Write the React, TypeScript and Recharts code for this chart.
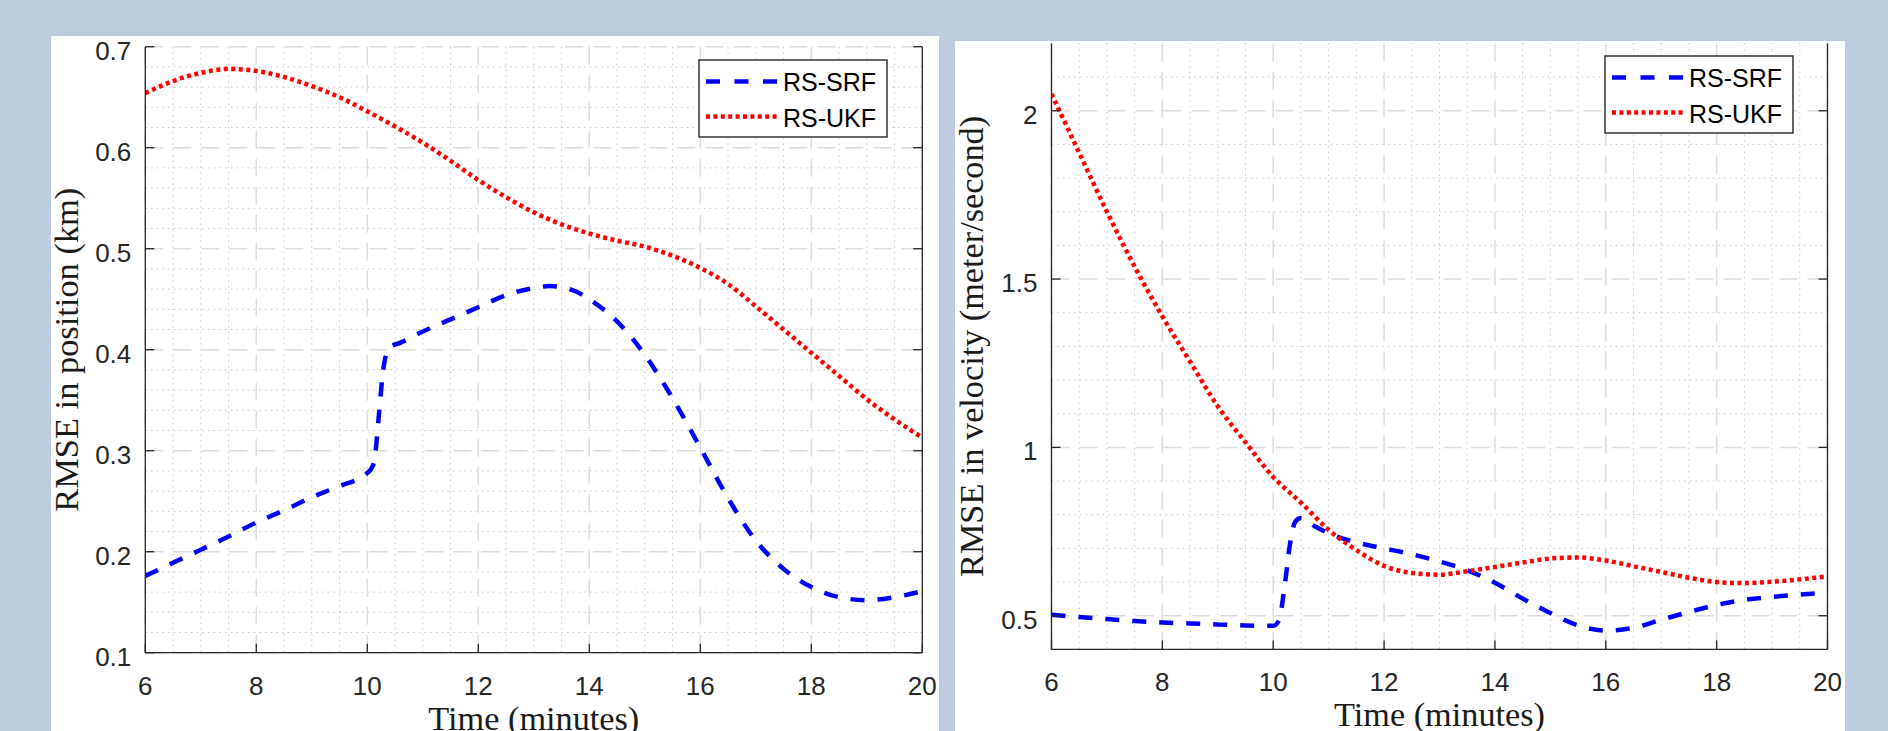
import React from 'react';
import { LineChart, Line, XAxis, YAxis, CartesianGrid, Legend } from 'recharts';

// ---------- data ----------
const seriesNames = ['RS-SRF', 'RS-UKF'];
const timeTicks = [6, 8, 10, 12, 14, 16, 18, 20];
const posTicks = [0.1, 0.2, 0.3, 0.4, 0.5, 0.6, 0.7];
const velTicks = [0.5, 1, 1.5, 2];

const posSrfTime = [6, 6.5, 7, 7.5, 8, 8.5, 9, 9.5, 10, 10.1, 10.15, 10.2, 10.3, 10.4, 10.6, 11, 11.5, 12, 12.5, 13, 13.3, 13.7, 14, 14.5, 15, 15.5, 16, 16.5, 17, 17.5, 18, 18.5, 19, 19.5, 20];
const posSrfValues = [0.176, 0.189, 0.202, 0.215, 0.229, 0.241, 0.254, 0.265, 0.278, 0.285, 0.3, 0.33, 0.385, 0.402, 0.407, 0.418, 0.43, 0.442, 0.454, 0.461, 0.463, 0.459, 0.45, 0.428, 0.395, 0.352, 0.303, 0.253, 0.211, 0.183, 0.165, 0.155, 0.152, 0.155, 0.161];

const posUkfTime = [6, 6.5, 7, 7.5, 8, 8.5, 9, 9.5, 10, 10.5, 11, 11.5, 12, 12.5, 13, 13.5, 14, 14.5, 15, 15.5, 16, 16.5, 17, 17.5, 18, 18.5, 19, 19.5, 20];
const posUkfValues = [0.654, 0.666, 0.674, 0.678, 0.676, 0.67, 0.661, 0.65, 0.636, 0.621, 0.605, 0.587, 0.568, 0.551, 0.536, 0.524, 0.515, 0.508, 0.502, 0.493, 0.481, 0.465, 0.443, 0.42, 0.397, 0.374, 0.351, 0.331, 0.313];

const velSrfTime = [6, 6.5, 7, 7.5, 8, 8.5, 9, 9.5, 10, 10.1, 10.2, 10.3, 10.4, 10.5, 10.75, 11, 11.5, 12, 12.5, 13, 13.5, 14, 14.5, 15, 15.5, 16, 16.5, 17, 17.5, 18, 18.5, 19, 19.5, 20];
const velSrfValues = [0.503, 0.496, 0.49, 0.484, 0.48, 0.477, 0.474, 0.471, 0.47, 0.485, 0.58, 0.71, 0.78, 0.79, 0.766, 0.745, 0.718, 0.7, 0.683, 0.661, 0.635, 0.598, 0.551, 0.508, 0.471, 0.456, 0.464, 0.488, 0.511, 0.532, 0.547, 0.556, 0.563, 0.569];

const velUkfTime = [6, 6.5, 7, 7.5, 8, 8.5, 9, 9.5, 10, 10.5, 11, 11.5, 12, 12.5, 13, 13.5, 14, 14.5, 15, 15.5, 16, 16.5, 17, 17.5, 18, 18.5, 19, 19.5, 20];
const velUkfValues = [2.05, 1.875, 1.7, 1.537, 1.389, 1.255, 1.122, 1.015, 0.912, 0.836, 0.755, 0.695, 0.648, 0.627, 0.622, 0.632, 0.645, 0.658, 0.67, 0.673, 0.664, 0.647, 0.63, 0.613, 0.6, 0.597, 0.601, 0.608, 0.617];

// ---------- helpers ----------
const range = (a: number, b: number, step: number) => {
  const out: number[] = [];
  for (let i = 0; a + i * step <= b + 1e-9; i++) out.push(+(a + i * step).toFixed(4));
  return out;
};
const notIn = (list: number[]) => (v: number) => !list.some((t) => Math.abs(t - v) < 1e-6);

const minorTime = range(6, 20, 0.5).filter(notIn(timeTicks));
const posMinor = range(0.1, 0.7, 0.02).filter(notIn(posTicks));
const velMinor = range(0.4, 2.2, 0.1).filter(notIn([...velTicks, 0.4, 2.2]));

const AXIS = '#262626';
const TICK_FONT = '"Liberation Sans", Arial, Helvetica, sans-serif';
const SERIF = '"Liberation Serif", "Times New Roman", serif';
const TICK_LEN = 9;
const TICK_SIZE = 26;
const LABEL_SIZE = 33;

const LeftTick = (props: any) => {
  const { x, y, payload } = props;
  const ax = x + 14;
  return (
    <g>
      <line x1={ax} y1={y} x2={ax + TICK_LEN} y2={y} stroke={AXIS} strokeWidth={1.3} />
      <text x={x} y={y + 13} textAnchor="end" fontSize={TICK_SIZE} fontFamily={TICK_FONT} fill={AXIS}>
        {String(payload.value)}
      </text>
    </g>
  );
};
const BottomTick = (props: any) => {
  const { x, y, payload } = props;
  return (
    <g>
      <line x1={x} y1={y} x2={x} y2={y - TICK_LEN} stroke={AXIS} strokeWidth={1.3} />
      <text x={x} y={y + 42} textAnchor="middle" fontSize={TICK_SIZE} fontFamily={TICK_FONT} fill={AXIS}>
        {String(payload.value)}
      </text>
    </g>
  );
};
const TopTick = (props: any) => {
  const { x, y } = props;
  return <line x1={x} y1={y} x2={x} y2={y + TICK_LEN} stroke={AXIS} strokeWidth={1.3} />;
};
const RightTick = (props: any) => {
  const { x, y } = props;
  return <line x1={x} y1={y} x2={x - TICK_LEN} y2={y} stroke={AXIS} strokeWidth={1.3} />;
};

const LegendBox = () => (
  <svg width={190} height={79} style={{ display: 'block' }}>
    <rect x={1} y={1} width={188} height={77} fill="#fff" stroke={AXIS} strokeWidth={1.4} />
    <line x1={8} y1={22.5} x2={79} y2={22.5} stroke="#0000FF" strokeWidth={4.5} strokeDasharray="14 14.5" />
    <line x1={8} y1={57.5} x2={79} y2={57.5} stroke="#FF0000" strokeWidth={4.5} strokeDasharray="4 3.4" />
    <text x={85} y={32} fontSize={25} fontFamily={TICK_FONT} fill="#000">{seriesNames[0]}</text>
    <text x={85} y={67.5} fontSize={25} fontFamily={TICK_FONT} fill="#000">{seriesNames[1]}</text>
  </svg>
);

type PanelProps = {
  left: number; top: number; width: number; height: number;
  plotLeft: number; plotTop: number; plotRight: number; plotBottom: number;
  yDomain: [number, number]; yTicks: number[]; yMinor: number[];
  srfTime: number[]; srfValues: number[]; ukfTime: number[]; ukfValues: number[];
  yLabel: string; yLabelX: number; yLabelLength: number;
  legendLeft: number; legendTop: number;
};

const Panel = (p: PanelProps) => {
  const srfData = p.srfTime.map((t, i) => ({ t, v: p.srfValues[i] }));
  const ukfData = p.ukfTime.map((t, i) => ({ t, v: p.ukfValues[i] }));
  const rightW = p.width - p.plotRight;
  const bottomH = p.height - p.plotBottom;
  return (
    <div style={{ position: 'absolute', left: p.left, top: p.top, width: p.width, height: p.height, background: '#fff' }}>
      <LineChart width={p.width} height={p.height} margin={{ top: p.plotTop, right: 0, left: 0, bottom: 0 }}>
        <CartesianGrid
          horizontalValues={p.yMinor}
          verticalValues={minorTime}
          stroke="#c6c6c6"
          strokeWidth={1}
          strokeDasharray="1.5 4.2"
        />
        <CartesianGrid
          horizontalValues={p.yTicks}
          verticalValues={timeTicks}
          stroke="#dcdcdc"
          strokeWidth={1.5}
          strokeDasharray="18 10"
        />
        <XAxis
          dataKey="t"
          type="number"
          domain={[6, 20]}
          ticks={timeTicks}
          interval={0}
          allowDataOverflow
          height={bottomH}
          tickSize={0}
          tickMargin={0}
          tickLine={false}
          axisLine={{ stroke: AXIS, strokeWidth: 1.3 }}
          tick={<BottomTick />}
          label={{
            content: (lp: any) => {
              const vb = lp.viewBox || {};
              return (
                <text
                  x={vb.x + vb.width / 2}
                  y={vb.y + 77}
                  textAnchor="middle"
                  fontSize={LABEL_SIZE}
                  fontFamily={SERIF}
                  fill="#1a1a1a"
                  textLength={211}
                  lengthAdjust="spacingAndGlyphs"
                >
                  Time (minutes)
                </text>
              );
            },
          }}
        />
        <XAxis
          xAxisId="top"
          orientation="top"
          dataKey="t"
          type="number"
          domain={[6, 20]}
          ticks={timeTicks}
          interval={0}
          allowDataOverflow
          height={0}
          tickSize={0}
          tickMargin={0}
          tickLine={false}
          axisLine={{ stroke: AXIS, strokeWidth: 1.3 }}
          tick={<TopTick />}
        />
        <YAxis
          type="number"
          domain={p.yDomain}
          ticks={p.yTicks}
          interval={0}
          allowDataOverflow
          width={p.plotLeft}
          tickSize={0}
          tickMargin={14}
          tickLine={false}
          axisLine={{ stroke: AXIS, strokeWidth: 1.3 }}
          tick={<LeftTick />}
          label={{
            content: (lp: any) => {
              const vb = lp.viewBox || {};
              const cx = vb.x + p.yLabelX;
              const cy = vb.y + vb.height / 2;
              return (
                <text
                  x={cx}
                  y={cy}
                  transform={`rotate(-90, ${cx}, ${cy})`}
                  textAnchor="middle"
                  fontSize={LABEL_SIZE}
                  fontFamily={SERIF}
                  fill="#1a1a1a"
                  textLength={p.yLabelLength}
                  lengthAdjust="spacingAndGlyphs"
                >
                  {p.yLabel}
                </text>
              );
            },
          }}
        />
        <YAxis
          yAxisId="right"
          orientation="right"
          type="number"
          domain={p.yDomain}
          ticks={p.yTicks}
          interval={0}
          allowDataOverflow
          width={rightW}
          tickSize={0}
          tickMargin={0}
          tickLine={false}
          axisLine={{ stroke: AXIS, strokeWidth: 1.3 }}
          tick={<RightTick />}
        />
        <Line
          data={srfData}
          dataKey="v"
          name={seriesNames[0]}
          type="monotone"
          stroke="#0000FF"
          strokeWidth={4.5}
          strokeDasharray="14 13"
          strokeLinecap="butt"
          dot={false}
          activeDot={false}
          isAnimationActive={false}
        />
        <Line
          data={ukfData}
          dataKey="v"
          name={seriesNames[1]}
          type="monotone"
          stroke="#FF0000"
          strokeWidth={4.5}
          strokeDasharray="4 3.5"
          strokeLinecap="butt"
          dot={false}
          activeDot={false}
          isAnimationActive={false}
        />
        <Legend
          layout="vertical"
          align="center"
          verticalAlign="middle"
          content={() => <LegendBox />}
          wrapperStyle={{ left: p.legendLeft, top: p.legendTop, width: 190, height: 79 }}
        />
      </LineChart>
    </div>
  );
};

export default function App() {
  return (
    <div style={{ position: 'absolute', left: 0, top: 0, width: 1888, height: 731, background: '#BDCDDF', overflow: 'hidden' }}>
      <Panel
        left={51}
        top={36}
        width={888}
        height={695}
        plotLeft={94.3}
        plotTop={10.7}
        plotRight={871.3}
        plotBottom={616.7}
        yDomain={[0.1, 0.7]}
        yTicks={posTicks}
        yMinor={posMinor}
        srfTime={posSrfTime}
        srfValues={posSrfValues}
        ukfTime={posUkfTime}
        ukfValues={posUkfValues}
        yLabel="RMSE in position (km)"
        yLabelX={27}
        yLabelLength={324}
        legendLeft={647}
        legendTop={22.5}
      />
      <Panel
        left={955}
        top={41}
        width={890}
        height={690}
        plotLeft={96.5}
        plotTop={2.4}
        plotRight={872.5}
        plotBottom={608.4}
        yDomain={[0.4, 2.2]}
        yTicks={velTicks}
        yMinor={velMinor}
        srfTime={velSrfTime}
        srfValues={velSrfValues}
        ukfTime={velUkfTime}
        ukfValues={velUkfValues}
        yLabel="RMSE in velocity (meter/second)"
        yLabelX={28}
        yLabelLength={461}
        legendLeft={648.5}
        legendTop={14}
      />
    </div>
  );
}
